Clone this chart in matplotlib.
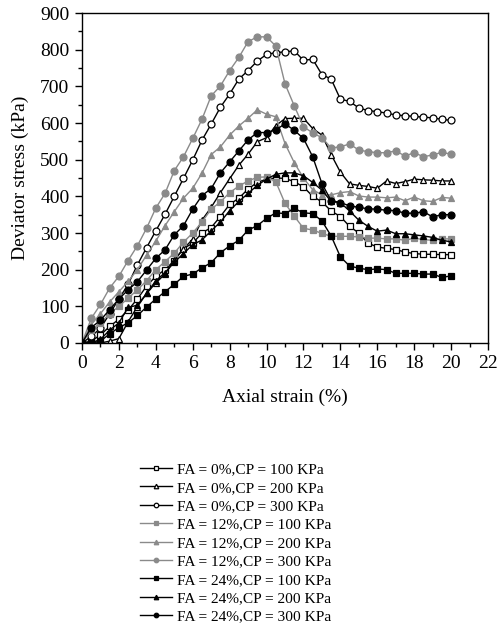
import matplotlib
matplotlib.use("Agg")
import matplotlib.pyplot as plt
from matplotlib.ticker import MultipleLocator

plt.rcParams['font.family'] = ['Liberation Serif', 'DejaVu Serif']

strain = [0, 0.5, 1, 1.5, 2, 2.5, 3, 3.5, 4, 4.5, 5, 5.5, 6, 6.5, 7, 7.5, 8, 8.5, 9, 9.5,
          10, 10.5, 11, 11.5, 12, 12.5, 13, 13.5, 14, 14.5, 15, 15.5, 16, 16.5, 17, 17.5,
          18, 18.5, 19, 19.5, 20]

fa0_cp100 = [0, 5, 22, 45, 65, 90, 120, 155, 182, 200, 225, 258, 272, 300, 315, 345, 378, 395, 420, 438,
             447, 450, 449, 440, 426, 400, 385, 360, 345, 318, 300, 272, 262, 258, 255, 248,
             244, 242, 242, 241, 241]
fa0_cp200 = [0, 0, 0, 5, 12, 58, 99, 135, 164, 188, 226, 257, 283, 335, 370, 410, 448, 485, 515, 549,
             560, 593, 612, 613, 613, 585, 567, 514, 466, 434, 430, 427, 422, 442, 435, 440,
             447, 445, 444, 442, 442]
fa0_cp300 = [0, 18, 40, 80, 120, 160, 213, 260, 306, 351, 400, 449, 499, 553, 597, 643, 679, 720, 743, 769,
             787, 792, 794, 797, 771, 774, 732, 720, 665, 659, 641, 634, 631, 627, 622, 620,
             618, 616, 614, 610, 607]
fa12_cp100 = [0, 35, 55, 80, 100, 122, 145, 170, 200, 222, 245, 275, 300, 330, 365, 385, 410, 428, 442, 452,
              453, 440, 381, 346, 313, 308, 299, 291, 291, 291, 289, 286, 286, 284, 284, 280,
              286, 282, 280, 284, 284]
fa12_cp200 = [0, 50, 80, 112, 140, 168, 200, 240, 278, 320, 358, 395, 422, 463, 514, 535, 567, 592, 613, 636,
              624, 617, 544, 492, 450, 418, 404, 404, 410, 413, 401, 398, 398, 396, 398, 388,
              398, 388, 386, 397, 395]
fa12_cp300 = [0, 67, 105, 150, 182, 225, 265, 313, 368, 408, 470, 508, 558, 610, 674, 701, 743, 779, 822, 835,
              835, 810, 707, 647, 590, 573, 560, 532, 535, 543, 526, 522, 519, 519, 524, 510,
              519, 508, 513, 520, 515]
fa24_cp100 = [0, 0, 5, 25, 42, 55, 75, 98, 120, 140, 160, 182, 188, 205, 219, 246, 265, 280, 308, 320,
              340, 355, 353, 367, 355, 353, 333, 292, 235, 210, 204, 200, 202, 200, 190, 190,
              190, 188, 188, 179, 183]
fa24_cp200 = [0, 0, 10, 35, 55, 97, 103, 135, 170, 192, 220, 244, 268, 281, 306, 330, 361, 386, 408, 430,
              447, 460, 464, 464, 456, 438, 417, 386, 383, 360, 335, 318, 305, 308, 298, 298,
              295, 292, 288, 280, 276]
fa24_cp300 = [0, 42, 62, 91, 120, 145, 167, 199, 231, 254, 295, 320, 365, 402, 421, 464, 494, 524, 554, 574,
              574, 581, 598, 580, 558, 508, 435, 388, 383, 374, 370, 366, 365, 362, 361, 354,
              354, 358, 344, 350, 350]

labels = ["FA = 0%,CP = 100 KPa", "FA = 0%,CP = 200 KPa", "FA = 0%,CP = 300 KPa",
          "FA = 12%,CP = 100 KPa", "FA = 12%,CP = 200 KPa", "FA = 12%,CP = 300 KPa",
          "FA = 24%,CP = 100 KPa", "FA = 24%,CP = 200 KPa", "FA = 24%,CP = 300 KPa"]
series = [fa0_cp100, fa0_cp200, fa0_cp300, fa12_cp100, fa12_cp200, fa12_cp300,
          fa24_cp100, fa24_cp200, fa24_cp300]

gray = '#8a8a8a'
styles = [
    dict(color='black', marker='s', mfc='white', mec='black'),
    dict(color='black', marker='^', mfc='white', mec='black'),
    dict(color='black', marker='o', mfc='white', mec='black'),
    dict(color=gray, marker='s', mfc=gray, mec=gray),
    dict(color=gray, marker='^', mfc=gray, mec=gray),
    dict(color=gray, marker='o', mfc=gray, mec=gray),
    dict(color='black', marker='s', mfc='black', mec='black'),
    dict(color='black', marker='^', mfc='black', mec='black'),
    dict(color='black', marker='o', mfc='black', mec='black'),
]

fig = plt.figure(figsize=(4.99, 6.29), dpi=100)
ax = fig.add_axes([0.1643, 0.4547, 0.8137, 0.5246])

handles = []
for y, lab, st in zip(series, labels, styles):
    h, = ax.plot(strain, y, linestyle='-', linewidth=1.0, markersize=5,
                 markeredgewidth=0.9, label=lab, **st)
    handles.append(h)

ax.set_xlim(0, 22)
ax.set_ylim(0, 900)
ax.xaxis.set_major_locator(MultipleLocator(2))
ax.xaxis.set_minor_locator(MultipleLocator(1))
ax.yaxis.set_major_locator(MultipleLocator(100))
ax.yaxis.set_minor_locator(MultipleLocator(50))
ax.tick_params(which='both', direction='out', top=False, right=False, labelsize=14)
ax.tick_params(which='major', length=5, width=1, pad=4)
ax.tick_params(which='minor', length=3, width=1)
for sp in ax.spines.values():
    sp.set_linewidth(1.0)

ax.set_xlabel('Axial strain (%)', fontsize=14, labelpad=12)
ax.set_ylabel('Deviator stress (kPa)', fontsize=14, labelpad=8)

fig.legend(handles=handles, labels=labels, loc='upper left',
           bbox_to_anchor=(0.268, 0.2745), bbox_transform=fig.transFigure,
           frameon=False, fontsize=11.1, handlelength=2.1, handletextpad=0.3,
           labelspacing=0.3, markerscale=0.65, borderaxespad=0)

fig.savefig('out.png', dpi=100)
